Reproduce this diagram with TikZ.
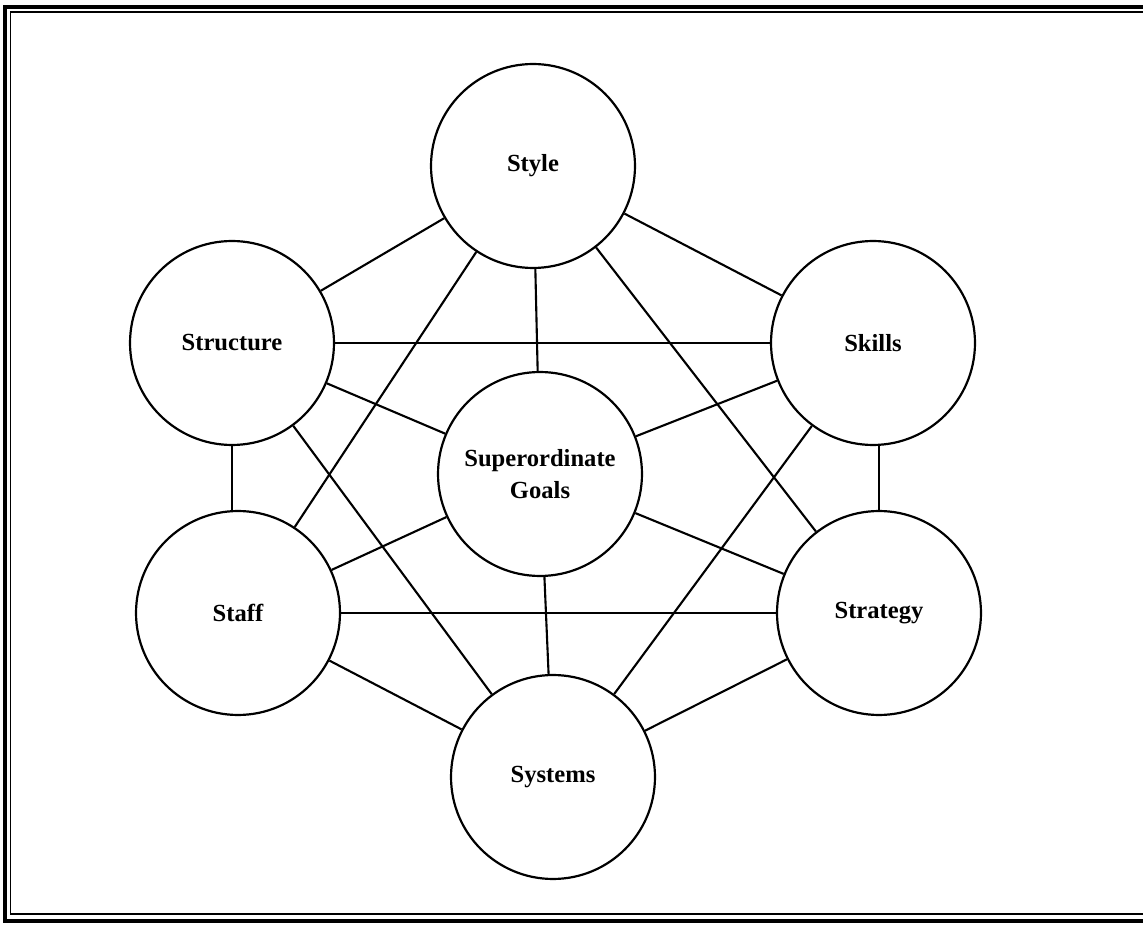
\documentclass[tikz,border=0pt]{standalone}
\usepackage{fontspec}
\setmainfont{Liberation Serif}
\begin{document}
\begin{tikzpicture}[x=0.02cm,y=-0.02cm,
  element/.style={circle,draw,line width=1.25pt,minimum size=4.08cm,inner sep=0pt,
    align=center,font=\fontsize{14}{18}\selectfont\bfseries},
  link/.style={line width=1.2pt},
  strong/.style={line width=1.6pt}]
  \useasboundingbox (0,0) rectangle (1143,925);
  \begin{scope}
    \clip (0,0) rectangle (1143,925);
    % double page frame
    \draw[line width=2.2pt] (5,7) rectangle (1160,921);
    \draw[line width=0.85pt] (10.5,12) rectangle (1155,914);
  \end{scope}

  % the seven elements
  \node[element] (style)  at (533,166) {Style};
  \node[element] (struct) at (232,343) {Structure};
  \node[element] (skills) at (873,343) {Skills};
  \node[element] (goals)  at (540,474) {Superordinate\\Goals};
  \node[element] (staff)  at (238,613) {Staff};
  \node[element] (strat)  at (879,613) {Strategy};
  \node[element] (systems) at (553,777) {Systems};

  % connections between the elements
  \draw[link] (style) -- (struct);
  \draw[link] (style) -- (skills);
  \draw[link] (style) -- (goals);
  \draw[link] (style) -- (staff);
  \draw[link] (style) -- (strat);
  \draw[strong] (struct) -- (skills);
  \draw[link] (struct) -- (goals);
  \draw[link] (struct.south) -- (struct.south |- staff.north);
  \draw[link] (struct) -- (systems);
  \draw[link] (skills) -- (goals);
  \draw[link] (strat.north |- skills.south) -- (strat.north);
  \draw[link] (skills) -- (systems);
  \draw[link] (staff) -- (goals);
  \draw[strong] (staff) -- (strat);
  \draw[link] (staff) -- (systems);
  \draw[link] (strat) -- (goals);
  \draw[link] (strat) -- (systems);
  \draw[link] (goals) -- (systems);
\end{tikzpicture}
\end{document}
